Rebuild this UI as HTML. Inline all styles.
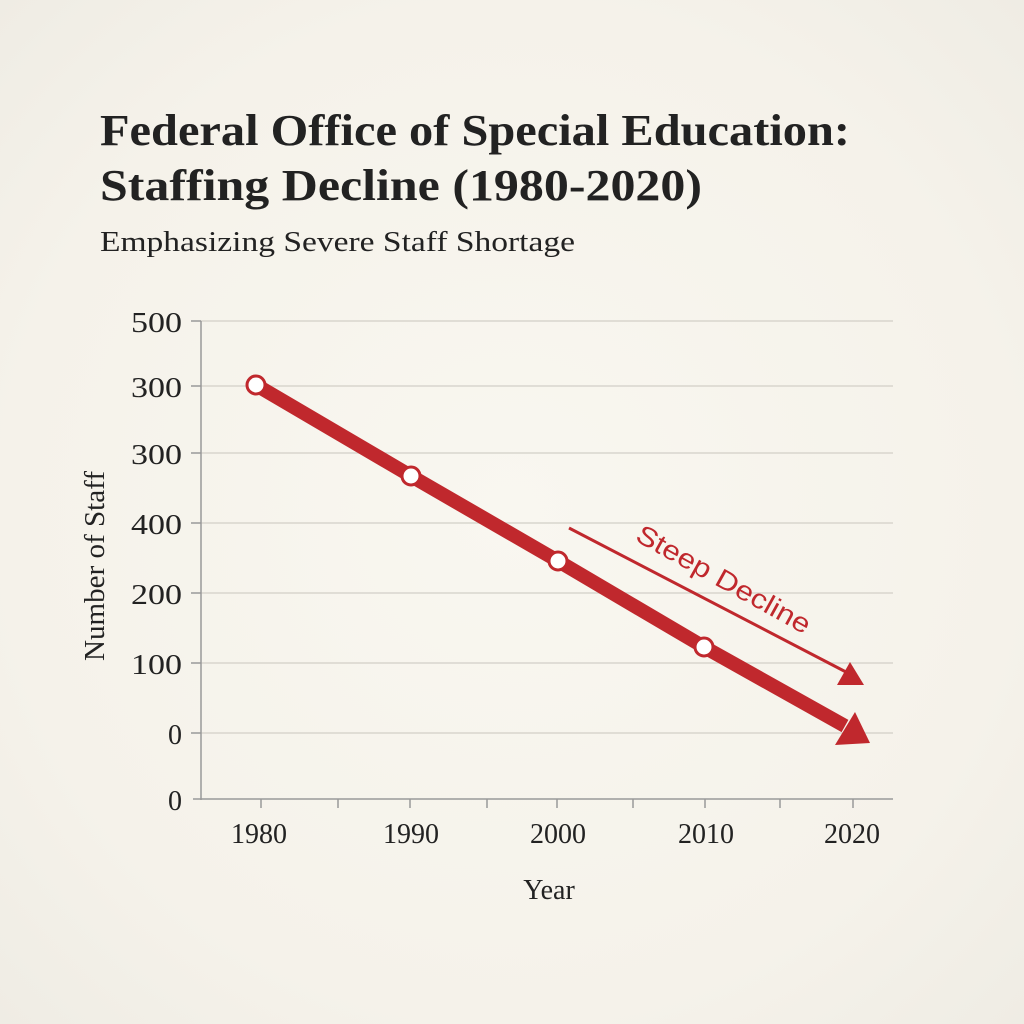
<!DOCTYPE html>
<html><head><style>
body{margin:0;width:1024px;height:1024px;background:radial-gradient(ellipse at center,#f9f7f0 0%,#f5f2ea 70%,#efece4 100%);font-family:"Liberation Serif",serif;}
</style></head><body>
<svg width="1024" height="1024" xmlns="http://www.w3.org/2000/svg" style="position:absolute;left:0;top:0">
<text x="100" y="145" font-family="Liberation Serif" font-weight="bold" font-size="44" fill="#222" textLength="750" lengthAdjust="spacingAndGlyphs">Federal Office of Special Education:</text>
<text x="100" y="200" font-family="Liberation Serif" font-weight="bold" font-size="44" fill="#222" textLength="602" lengthAdjust="spacingAndGlyphs">Staffing Decline (1980-2020)</text>
<text x="100" y="251" font-family="Liberation Serif" font-size="28" fill="#222" textLength="475" lengthAdjust="spacingAndGlyphs">Emphasizing Severe Staff Shortage</text>
<g stroke="#d8d5cd" stroke-width="1.5">
<line x1="200" y1="321" x2="893" y2="321"/><line x1="200" y1="386" x2="893" y2="386"/>
<line x1="200" y1="453" x2="893" y2="453"/><line x1="200" y1="523" x2="893" y2="523"/>
<line x1="200" y1="593" x2="893" y2="593"/><line x1="200" y1="663" x2="893" y2="663"/>
<line x1="200" y1="733" x2="893" y2="733"/>
</g>
<g stroke="#999" stroke-width="1.5">
<line x1="201" y1="321" x2="201" y2="800"/><line x1="193" y1="799" x2="893" y2="799"/>
<line x1="191" y1="321" x2="201" y2="321"/><line x1="191" y1="386" x2="201" y2="386"/><line x1="191" y1="453" x2="201" y2="453"/><line x1="191" y1="523" x2="201" y2="523"/><line x1="191" y1="593" x2="201" y2="593"/><line x1="191" y1="663" x2="201" y2="663"/><line x1="191" y1="733" x2="201" y2="733"/>
<line x1="261" y1="799" x2="261" y2="808"/><line x1="338" y1="799" x2="338" y2="808"/><line x1="410" y1="799" x2="410" y2="808"/><line x1="487" y1="799" x2="487" y2="808"/><line x1="557" y1="799" x2="557" y2="808"/><line x1="633" y1="799" x2="633" y2="808"/><line x1="705" y1="799" x2="705" y2="808"/><line x1="780" y1="799" x2="780" y2="808"/><line x1="853" y1="799" x2="853" y2="808"/>
</g>
<g font-family="Liberation Serif" font-size="28" fill="#222" text-anchor="end">
<text x="182" y="332" textLength="51" lengthAdjust="spacingAndGlyphs">500</text><text x="182" y="397" textLength="51" lengthAdjust="spacingAndGlyphs">300</text><text x="182" y="464" textLength="51" lengthAdjust="spacingAndGlyphs">300</text><text x="182" y="534" textLength="51" lengthAdjust="spacingAndGlyphs">400</text><text x="182" y="604" textLength="51" lengthAdjust="spacingAndGlyphs">200</text><text x="182" y="674" textLength="51" lengthAdjust="spacingAndGlyphs">100</text><text x="182" y="744">0</text><text x="182" y="810">0</text>
</g>
<g font-family="Liberation Serif" font-size="28" fill="#222" text-anchor="middle">
<text x="259" y="843">1980</text><text x="411" y="843">1990</text><text x="558" y="843">2000</text><text x="706" y="843">2010</text><text x="852" y="843">2020</text>
<text x="549" y="899">Year</text>
<text transform="translate(104,566) rotate(-90)" textLength="190" lengthAdjust="spacingAndGlyphs">Number of Staff</text>
</g>
<polyline points="256,385 411,476 558,561 704,647 845,726" fill="none" stroke="#c0282d" stroke-width="14" stroke-linejoin="round"/>
<polygon points="870,743 835,745 855,712" fill="#c0282d"/>
<line x1="569" y1="528" x2="846" y2="672" stroke="#c0282d" stroke-width="3"/>
<polygon points="850,662 864,685 837,685" fill="#c0282d"/>
<text transform="translate(634,540) rotate(29)" font-family="Liberation Sans" font-size="27" fill="#c0282d" textLength="195" lengthAdjust="spacingAndGlyphs">Steep Decline</text>
<g fill="#fff" stroke="#c0282d" stroke-width="3">
<circle cx="256" cy="385" r="9"/><circle cx="411" cy="476" r="9"/><circle cx="558" cy="561" r="9"/><circle cx="704" cy="647" r="9"/>
</g>
</svg>
</body></html>
